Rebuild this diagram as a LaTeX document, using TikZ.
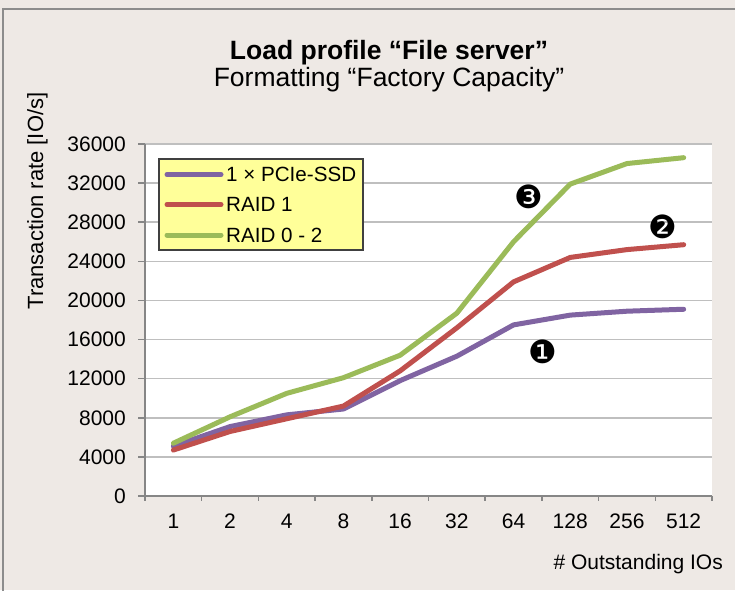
\documentclass[tikz,border=0pt]{standalone}
\usepackage{fontspec}
\setmainfont{Liberation Sans}
\newfontfamily\dingfont{DejaVu Sans}
\usetikzlibrary{positioning}
\definecolor{chartbg}{HTML}{EEE9E5}
\definecolor{framegray}{HTML}{8C8C8C}
\definecolor{gridgray}{HTML}{BFBFBF}
\definecolor{axisgray}{HTML}{868686}
\definecolor{ssdpurple}{HTML}{8064A2}
\definecolor{raidred}{HTML}{C0504D}
\definecolor{raidgreen}{HTML}{9BBB59}
\definecolor{legendyellow}{HTML}{FFFF99}
\tikzstyle{ticklabel} = [font=\fontsize{21}{24}\selectfont, inner sep=0pt]
\tikzstyle{legendlabel} = [font=\fontsize{20.6}{24}\selectfont, inner sep=0pt]
\tikzstyle{titlelabel} = [font=\fontsize{26.5}{30}\selectfont, inner sep=0pt]
\tikzstyle{series} = [line width=5pt, line join=round, line cap=round]
\tikzstyle{gridline} = [gridgray, line width=1.5pt]
\tikzstyle{axisline} = [axisgray, line width=1.5pt]
\tikzstyle{marker} = [font=\dingfont\fontsize{32}{32}\selectfont, inner sep=0pt]

\begin{document}
\begin{tikzpicture}[x=1pt, y=-1pt]
	\useasboundingbox (0,0) rectangle (735,590);
	\fill[chartbg] (0,0) rectangle (735,590);
	\draw[framegray, line width=2pt] (2.5,600) -- (2.5,9) -- (745,9);

	\node (title) [titlelabel, font=\bfseries\fontsize{26.5}{30}\selectfont] at (389,53) {Load profile “File server”};
	\node (subtitle) [titlelabel] at (389,80) {Formatting “Factory Capacity”};

	% plot area: x in categories, y in thousands of IO/s
	\begin{scope}[shift={(145,496)}, x=56.7pt, y=9.778pt]
		\fill[white] (0,0) rectangle (10,36);
		\foreach \v in {4,8,...,36}
			\draw[gridline] (0,\v) -- (10,\v);
		\draw[axisline] (0,36) -- (0,0) -- (10,0);
		\foreach \v/\lab in {0/0,4/4000,8/8000,12/12000,16/16000,20/20000,24/24000,28/28000,32/32000,36/36000} {
			\draw[axisline] (0,\v) -- ++(-7pt,0);
			\node (ytick\v) [ticklabel, anchor=east] at ([xshift=-19pt]0,\v) {\lab};
		}
		\foreach \i in {0,...,10}
			\draw[axisline] (\i,0) -- ++(0,-5pt);
		\foreach \io [count=\i] in {1,2,4,8,16,32,64,128,256,512}
			\node (xtick\io) [ticklabel] at ([yshift=-25pt]\i-0.5,0) {\io};

		\draw[series, ssdpurple] plot coordinates {(0.5,5.1) (1.5,7.1) (2.5,8.3) (3.5,8.9) (4.5,11.8) (5.5,14.3) (6.5,17.5) (7.5,18.5) (8.5,18.9) (9.5,19.1)};
		\draw[series, raidred] plot coordinates {(0.5,4.7) (1.5,6.6) (2.5,7.9) (3.5,9.2) (4.5,12.8) (5.5,17.2) (6.5,21.9) (7.5,24.4) (8.5,25.2) (9.5,25.7)};
		\draw[series, raidgreen] plot coordinates {(0.5,5.4) (1.5,8.1) (2.5,10.5) (3.5,12.1) (4.5,14.4) (5.5,18.7) (6.5,26.0) (7.5,31.9) (8.5,34.0) (9.5,34.6)};
	\end{scope}

	\node (ylabel) [ticklabel, font=\fontsize{22}{24}\selectfont, rotate=90] at (37.5,201) {Transaction rate [IO/s]};
	\node (xlabel) [ticklabel, anchor=east] at (723,564) {\# Outstanding IOs};

	% legend
	\draw[black!75, line width=1.2pt, fill=legendyellow] (159,159) rectangle (363,250);
	\draw[series, ssdpurple] (167,174.5) -- (221,174.5);
	\draw[series, raidred] (167,204.5) -- (221,204.5);
	\draw[series, raidgreen] (167,235) -- (221,235);
	\node (legssd) [legendlabel, anchor=west] at (226,174.5) {1 × PCIe-SSD};
	\node (legraid1) [legendlabel, anchor=west] at (226,204.5) {RAID 1};
	\node (legraid02) [legendlabel, anchor=west] at (226,235) {RAID 0 - 2};

	\node (mark1) [marker] at (543.3,351.7) {❶};
	\node (mark2) [marker] at (662.7,226.7) {❷};
	\node (mark3) [marker] at (529.3,196.7) {❸};
\end{tikzpicture}
\end{document}
